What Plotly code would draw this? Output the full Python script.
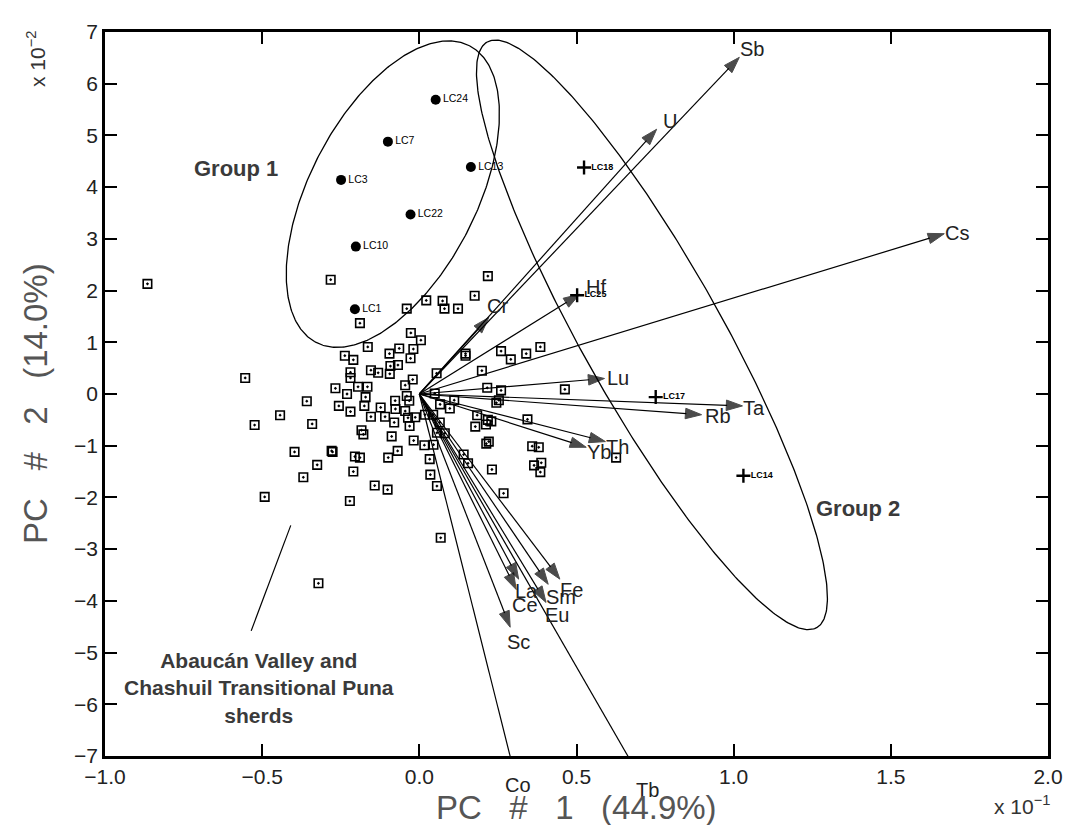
import numpy as np
import plotly.graph_objects as go

# ---------------- data (PC1 in units of 1e-1, PC2 in units of 1e-2) ----------------
sq_x = [-0.282, 0.218, 0.176, 0.022, 0.074, 0.080, 0.123, -0.040, -0.189, -0.027,
        0.005, -0.164, -0.064, -0.019, -0.095, -0.237, -0.210, -0.028, 0.147, 0.147,
        0.260, 0.291, 0.340, 0.385, -0.092, -0.068, -0.219, -0.219, -0.154, -0.131,
        -0.094, 0.055, 0.199, -0.554, -0.021, -0.267, -0.195, -0.165, -0.045, -0.230,
        -0.171, -0.040, -0.032, 0.049, 0.216, 0.260, 0.463, -0.358, -0.256, -0.175,
        -0.123, -0.077, -0.076, -0.045, -0.219, 0.066, 0.097, 0.111, 0.253, 0.245,
        -0.443, -0.524, -0.341, -0.154, -0.109, -0.080, -0.036, -0.013, 0.018, 0.044,
        -0.031, 0.065, 0.184, 0.178, 0.212, 0.229, 0.218, 0.344, -0.184, -0.178,
        -0.088, 0.056, 0.081, -0.018, 0.016, 0.045, 0.213, 0.221, 0.359, 0.380,
        -0.397, -0.276, -0.279, -0.205, -0.189, -0.099, -0.069, 0.033, 0.141, 0.155,
        0.365, 0.388, 0.385, 0.626, -0.325, -0.210, 0.231, -0.369, 0.035, -0.142,
        -0.101, 0.056, 0.268, -0.492, -0.221, 0.068, -0.321, -0.865]
sq_y = [2.21, 2.28, 1.90, 1.81, 1.80, 1.65, 1.65, 1.65, 1.37, 1.18,
        1.04, 0.91, 0.88, 0.87, 0.78, 0.74, 0.66, 0.69, 0.74, 0.78,
        0.83, 0.67, 0.78, 0.91, 0.54, 0.56, 0.42, 0.31, 0.46, 0.41,
        0.39, 0.40, 0.45, 0.31, 0.28, 0.11, 0.14, 0.14, 0.17, 0.00,
        -0.06, -0.04, -0.13, 0.01, 0.12, 0.07, 0.09, -0.14, -0.23, -0.23,
        -0.26, -0.13, -0.29, -0.33, -0.34, -0.20, -0.28, -0.12, -0.12, -0.17,
        -0.41, -0.60, -0.58, -0.44, -0.44, -0.55, -0.46, -0.45, -0.40, -0.40,
        -0.62, -0.55, -0.41, -0.63, -0.59, -0.53, -0.50, -0.49, -0.70, -0.78,
        -0.82, -0.75, -0.76, -0.90, -0.99, -0.98, -0.96, -0.92, -1.01, -1.03,
        -1.12, -1.12, -1.10, -1.21, -1.23, -1.23, -1.10, -1.26, -1.17, -1.34,
        -1.38, -1.33, -1.51, -1.23, -1.37, -1.50, -1.46, -1.61, -1.56, -1.77,
        -1.85, -1.78, -1.92, -1.99, -2.07, -2.78, -3.66, 2.13]

g1_names = ["LC24", "LC7", "LC13", "LC3", "LC22", "LC10", "LC1"]
g1_x = [0.052, -0.100, 0.164, -0.249, -0.028, -0.202, -0.205]
g1_y = [5.69, 4.88, 4.39, 4.14, 3.47, 2.85, 1.64]

g2_names = ["LC18", "LC25", "LC17", "LC14"]
g2_x = [0.524, 0.502, 0.752, 1.031]
g2_y = [4.38, 1.91, -0.06, -1.58]

elements = ["Sb", "U", "Cs", "Hf", "Cr", "Lu", "Ta", "Rb", "Th", "Yb",
            "Fe", "Sm", "La", "Ce", "Eu", "Sc", "Co", "Tb"]
load_x = [1.018, 0.755, 1.670, 0.510, 0.221, 0.589, 1.028, 0.898, 0.592, 0.531,
          0.447, 0.410, 0.316, 0.308, 0.403, 0.289, 0.330, 0.758]
load_y = [6.51, 5.12, 3.10, 1.93, 1.48, 0.30, -0.23, -0.40, -0.92, -1.03,
          -3.58, -3.68, -3.58, -3.78, -4.03, -4.51, -8.00, -8.00]

x_ticks = [-1.0, -0.5, 0.0, 0.5, 1.0, 1.5, 2.0]
y_ticks = [-7, -6, -5, -4, -3, -2, -1, 0, 1, 2, 3, 4, 5, 6, 7]

# confidence ellipses: centre, semi-axis vectors (data units)
ell1 = dict(c=(-0.0843, 3.865), u=(0.2438, 2.869), v=(0.2357, -0.743))
ell2 = dict(c=(0.740, 1.144), u=(0.524, -5.663), v=(0.1926, 0.661))

# ---------------- styling ----------------
lab_off = {"Sb": (13, 8), "U": (13, 8), "Cs": (13, 1), "Hf": (16, 7), "Cr": (9, 11),
           "Lu": (14, 0), "Ta": (12, -2), "Rb": (16, -1), "Th": (12, -5), "Yb": (13, -5),
           "Fe": (12, -11), "Sm": (13, -13), "La": (8, -12), "Ce": (9, -16),
           "Eu": (11, -13), "Sc": (8, -15)}
out_off = {"Co": (8, -29), "Tb": (20, -34)}

FONT = "Liberation Sans, Arial, sans-serif"
fig = go.Figure()

t = np.linspace(0, 2 * np.pi, 400)
for e in (ell1, ell2):
    ex = e["c"][0] + e["u"][0] * np.cos(t) + e["v"][0] * np.sin(t)
    ey = e["c"][1] + e["u"][1] * np.cos(t) + e["v"][1] * np.sin(t)
    fig.add_trace(go.Scatter(x=ex, y=ey, mode="lines",
                             line=dict(color="black", width=1.3),
                             hoverinfo="skip", showlegend=False))

for name, lx, ly in zip(elements, load_x, load_y):
    fig.add_trace(go.Scatter(
        x=[0, lx], y=[0, ly], mode="lines+markers",
        line=dict(color="black", width=1.2),
        marker=dict(symbol=["circle", "arrow"], size=[0, 17], color="black",
                    angleref="previous", line=dict(width=1, color="black")),
        hoverinfo="skip", showlegend=False))

fig.add_trace(go.Scatter(
    x=sq_x, y=sq_y, mode="markers",
    marker=dict(symbol="square-open-dot", size=8.5, color="black",
                line=dict(width=1.6, color="black")),
    hoverinfo="skip", showlegend=False))

fig.add_trace(go.Scatter(
    x=g1_x, y=g1_y, mode="markers+text", text=g1_names,
    textposition="middle right",
    textfont=dict(family=FONT, size=10.5, color="#000"),
    marker=dict(symbol="circle", size=10, color="black"),
    hoverinfo="skip", showlegend=False))

fig.add_trace(go.Scatter(
    x=g2_x, y=g2_y, mode="markers+text", text=[f"<b>{n}</b>" for n in g2_names],
    textposition="middle right",
    textfont=dict(family=FONT, size=9, color="#000"),
    marker=dict(symbol="cross-thin", size=10, color="black",
                line=dict(width=2.4, color="black")),
    hoverinfo="skip", showlegend=False))

# leader line for the sherd label
fig.add_trace(go.Scatter(x=[-0.409, -0.535], y=[-2.54, -4.58], mode="lines",
                         line=dict(color="black", width=1.2),
                         hoverinfo="skip", showlegend=False))

ann = []
lab_font = dict(family=FONT, size=20, color="#222")
for name, lx, ly in zip(elements, load_x, load_y):
    if name in lab_off:
        dx, dy = lab_off[name]
        ann.append(dict(x=lx, y=ly, xref="x", yref="y", text=name, showarrow=False,
                        xanchor="center", yanchor="middle",
                        xshift=dx, yshift=dy, font=lab_font))
    else:
        dx, dy = out_off[name]
        xa = lx * (y_ticks[0] / ly)
        ann.append(dict(x=xa, y=0, xref="x", yref="paper", text=name, showarrow=False,
                        xanchor="center", yanchor="middle",
                        xshift=dx, yshift=dy, font=lab_font))

grp_font = dict(family=FONT, size=22, color="#3a3a3a")
ann.append(dict(x=-0.583, y=4.37, xref="x", yref="y", text="<b>Group 1</b>",
                showarrow=False, xanchor="center", yanchor="middle", font=grp_font))
ann.append(dict(x=1.394, y=-2.21, xref="x", yref="y", text="<b>Group 2</b>",
                showarrow=False, xanchor="center", yanchor="middle", font=grp_font))
ann.append(dict(x=-0.51, y=-5.69, xref="x", yref="y",
                text="<b>Abaucán Valley and<br>Chashuil Transitional Puna<br>sherds</b>",
                showarrow=False, align="center", xanchor="center", yanchor="middle",
                font=dict(family=FONT, size=21, color="#3a3a3a")))

sp = "&nbsp;&nbsp;&nbsp;"
title_font = dict(family=FONT, size=33, color="#555")
ann.append(dict(x=0.5, y=-0.0714, xref="paper", yref="paper",
                text=f"PC{sp}#{sp}1{sp}(44.9%)", showarrow=False,
                xanchor="center", yanchor="middle", font=title_font))
ann.append(dict(x=-0.0737, y=0.487, xref="paper", yref="paper",
                text=f"PC{sp}#{sp}2{sp}(14.0%)", showarrow=False, textangle=-90,
                xanchor="center", yanchor="middle", font=title_font))
ann.append(dict(x=0.972, y=-0.0673, xref="paper", yref="paper",
                text="x 10<sup>−1</sup>", showarrow=False,
                xanchor="center", yanchor="middle",
                font=dict(family=FONT, size=21, color="#333")))
ann.append(dict(x=-0.0737, y=0.962, xref="paper", yref="paper",
                text="x 10<sup>−2</sup>", showarrow=False, textangle=-90,
                xanchor="center", yanchor="middle",
                font=dict(family=FONT, size=21, color="#333")))

axis_common = dict(showgrid=False, zeroline=False, showline=True, linecolor="black",
                   linewidth=2.5, mirror="ticks", ticks="inside", ticklen=12,
                   tickwidth=2, tickcolor="black",
                   tickfont=dict(family=FONT, size=21, color="#222"))
fig.update_xaxes(range=[-1, 2], tickvals=x_ticks, tickformat=".1f", **axis_common)
fig.update_yaxes(range=[-7, 7], tickvals=y_ticks, **axis_common)

# page body adds an 8px margin, so the figure is 8px smaller on each side
fig.update_layout(width=1067, height=817,
                  margin=dict(l=97, r=20, t=20, b=69),
                  plot_bgcolor="white", paper_bgcolor="white",
                  annotations=ann, showlegend=False)

fig.write_html("out.html")
